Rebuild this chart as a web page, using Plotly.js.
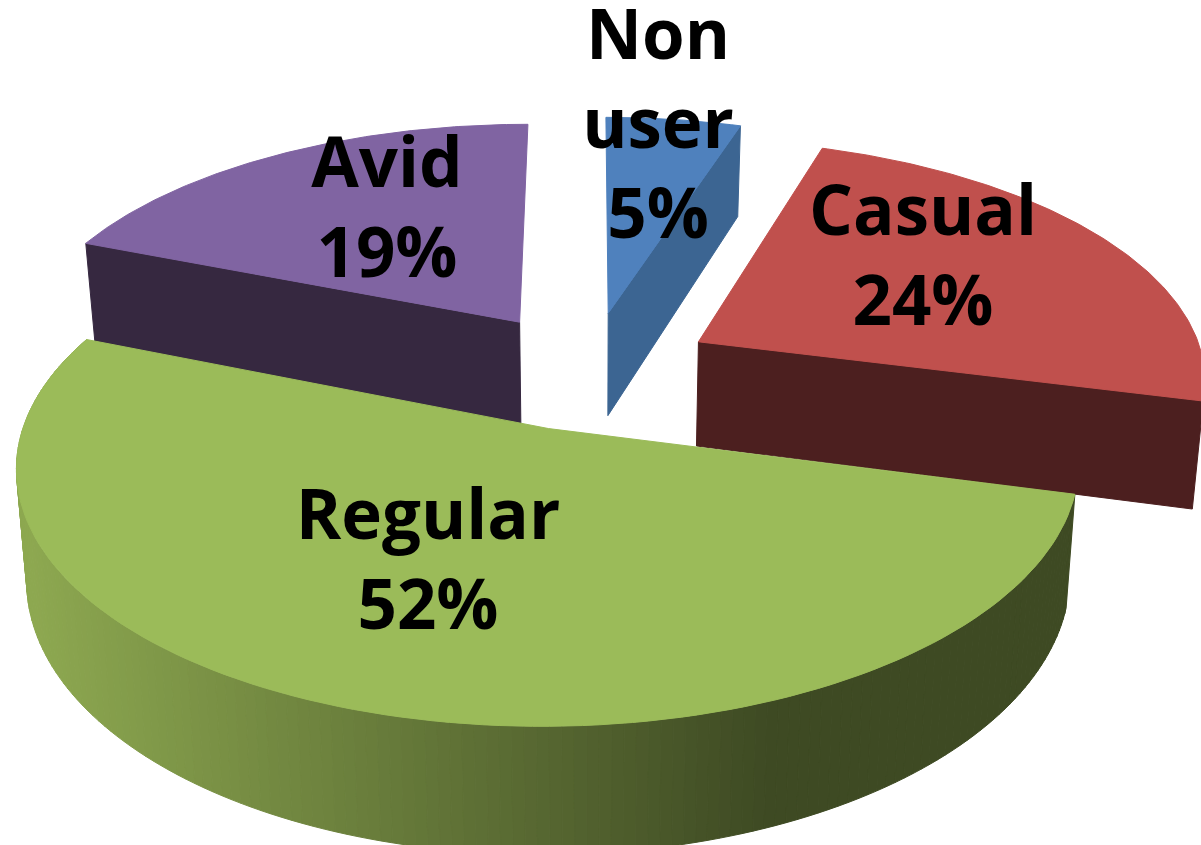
<!DOCTYPE html>
<html><head><meta charset="utf-8">
<script src="https://cdn.plot.ly/plotly-3.0.0.min.js"></script>
<style>html,body{margin:0;padding:0;background:#fff}#c{width:1201px;height:845px}</style>
</head><body><div id="c"></div>
<script>
const categories = ["Non user","Casual","Regular","Avid"];
const values = [5,24,52,19];
const labelLines = [["Non","user"],["Casual"],["Regular"],["Avid"]];
const topColors = ["#4f81bd","#c0504d","#9bbb59","#8064a2"];
const wallColors = ["#3c6592","#4c1f1f","#3e4a23","#362840"];
const labelPos = [[658,131],[923,263],[428,567],[387,215]];

// view geometry of the tilted pie, in pixel-like axis units
const PX=589, PY=370, R=508, RY=238, K=0.14, EXPL=0.25, DEPTH=106, SHRINK=0.018;
function proj(X,Y,z){const s=1/(1-K*Y);const f=1-SHRINK*z;return [PX+R*X*s*f, PY+RY*Y*s+z*DEPTH*s];}

const total=values.reduce((a,b)=>a+b,0);
let cum=0;
const slices=values.map(v=>{const a0=cum/total*2*Math.PI;cum+=v;const a1=cum/total*2*Math.PI;
  const m=(a0+a1)/2;return {a0,a1,ox:Math.sin(m)*EXPL,oy:-Math.cos(m)*EXPL};});
function rim(sl,a,z){return proj(sl.ox+Math.sin(a),sl.oy-Math.cos(a),z);}
function apex(sl,z){return proj(sl.ox,sl.oy,z);}
const traces=[];
function poly(pts,color){traces.push({type:'scatter',mode:'lines',x:pts.map(p=>p[0]),y:pts.map(p=>p[1]),
  fill:'toself',fillcolor:color,line:{color:color,width:1},hoverinfo:'skip',showlegend:false});}
function topFace(i){const sl=slices[i];const pts=[apex(sl,0)];const n=120;
  for(let j=0;j<=n;j++)pts.push(rim(sl,sl.a0+(sl.a1-sl.a0)*j/n,0));pts.push(apex(sl,0));poly(pts,topColors[i]);}
function radialWall(i,a){const sl=slices[i];poly([apex(sl,0),rim(sl,a,0),rim(sl,a,1),apex(sl,1),apex(sl,0)],wallColors[i]);}
function mix(c0,c1,t){return 'rgb('+c0.map((c,k)=>Math.round(c+(c1[k]-c)*t)).join(',')+')';}

// back to front
radialWall(3,slices[3].a0); topFace(3);
radialWall(0,slices[0].a1); topFace(0);
radialWall(1,slices[1].a1); topFace(1);
// outer wall of the largest slice, shaded left to right
{const sl=slices[2],n=160;
 for(let j=0;j<n;j++){const a=sl.a1-(sl.a1-sl.a0)*j/n,b=sl.a1-(sl.a1-sl.a0)*(j+1)/n;
  const p0=rim(sl,a,0),p1=rim(sl,b,0),p2=rim(sl,b,1),p3=rim(sl,a,1);
  const t=Math.max(0,Math.min(1,((p0[0]+p1[0])/2-30)/740));
  poly([p0,p1,p2,p3,p0],mix([141,168,80],[62,74,35],t));}
}
topFace(2);

// labels
const labelText=categories.map((c,i)=>labelLines[i].join('<br>')+'<br>'+values[i]+'%');
traces.push({type:'scatter',mode:'text',x:labelPos.map(p=>p[0]),y:labelPos.map(p=>p[1]),text:labelText,
  textposition:'middle center',textfont:{family:'"Open Sans", sans-serif',size:69,color:'#000',weight:700},
  hoverinfo:'skip',showlegend:false,cliponaxis:false});

Plotly.newPlot('c',traces,{
  width:1201,height:845,margin:{l:0,r:0,t:0,b:0},paper_bgcolor:'#fff',plot_bgcolor:'#fff',
  xaxis:{range:[0,1201],visible:false,fixedrange:true},
  yaxis:{range:[845,0],visible:false,fixedrange:true},showlegend:false
},{displayModeBar:false,staticPlot:true});
</script></body></html>
